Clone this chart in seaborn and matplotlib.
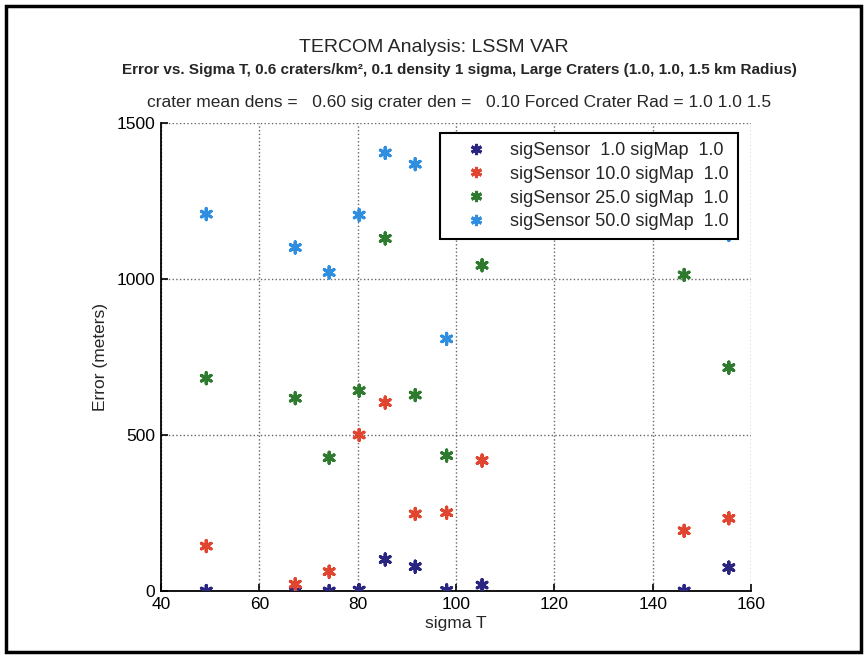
import pandas as pd
import matplotlib.pyplot as plt
import matplotlib.patches as mpatches
import seaborn as sns

# ==========================================
# DATA
# ==========================================
SIGMA_T = [49.2, 67.3, 74.2, 80.3, 85.6, 91.7, 98.1, 105.3, 146.4, 155.5]

ERR_SENSOR_1 = [0, 0, 0, 3, 101, 78, 2, 19, 0, 75]
ERR_SENSOR_10 = [144, 22, 62, 500, 604, 247, 251, 418, 193, 233]
ERR_SENSOR_25 = [682, 618, 427, 642, 1130, 628, 434, 1044, 1013, 716]
# 50.0 sensor: the points at 105.3 and 146.4 sit behind the legend
SIGMA_T_50 = [49.2, 67.3, 74.2, 80.3, 85.6, 91.7, 98.1, 155.5]
ERR_SENSOR_50 = [1208, 1101, 1021, 1205, 1404, 1368, 808, 1141]

LABELS = ["sigSensor  1.0 sigMap  1.0",
          "sigSensor 10.0 sigMap  1.0",
          "sigSensor 25.0 sigMap  1.0",
          "sigSensor 50.0 sigMap  1.0"]
COLORS = ["#2a2580", "#e0452f", "#2e7a2e", "#2f8ee0"]

X_TICKS = [40, 60, 80, 100, 120, 140, 160]
Y_TICKS = [0, 500, 1000, 1500]

# ==========================================
# BUILD TABLE
# ==========================================
rows = []
for xs, ys, lab in [(SIGMA_T, ERR_SENSOR_1, LABELS[0]),
                    (SIGMA_T, ERR_SENSOR_10, LABELS[1]),
                    (SIGMA_T, ERR_SENSOR_25, LABELS[2]),
                    (SIGMA_T_50, ERR_SENSOR_50, LABELS[3])]:
    for x, y in zip(xs, ys):
        rows.append({"sigma T": x, "Error": y, "series": lab})
df = pd.DataFrame(rows)

# ==========================================
# PLOT
# ==========================================
sns.set_theme(style="white")
plt.rcParams['font.family'] = ['Liberation Sans', 'DejaVu Sans']

fig = plt.figure(figsize=(8.67, 6.57), dpi=100)
ax = fig.add_axes([161 / 867, 1 - 591 / 657, 590 / 867, 468 / 657])

sns.scatterplot(data=df, x="sigma T", y="Error", hue="series",
                palette=COLORS, hue_order=LABELS, marker=(6, 2, 0),
                s=65, linewidth=2.2, ax=ax, legend=True, zorder=3)

ax.set_xlim(40, 160)
ax.set_ylim(0, 1500)
ax.set_xticks(X_TICKS)
ax.set_yticks(Y_TICKS)
ax.tick_params(direction="in", length=5, width=1.2, labelsize=12.5,
               colors="black", bottom=True, left=True, pad=4)
ax.grid(True, linestyle=":", color="#666666", linewidth=1.0)
for side in ["top", "right"]:
    ax.spines[side].set_visible(False)
for side in ["left", "bottom"]:
    ax.spines[side].set_color("black")
    ax.spines[side].set_linewidth(1.3)

ax.set_xlabel("sigma T", fontsize=12.5, labelpad=3)
ax.set_ylabel("Error (meters)", fontsize=12.5, labelpad=6)

leg = ax.legend(loc="upper right", bbox_to_anchor=(0.978, 0.979),
                borderaxespad=0, fontsize=13, frameon=True, fancybox=False,
                handlelength=3.0, handletextpad=0.4, borderpad=0.5,
                labelspacing=0.38, markerscale=1.0)
leg.get_frame().set_edgecolor("black")
leg.get_frame().set_linewidth(1.5)
leg.get_frame().set_alpha(1)

fig.text(0.5, 1 - 47 / 657, "TERCOM Analysis: LSSM VAR",
         ha="center", va="center", fontsize=14)
fig.text(459 / 867, 1 - 70 / 657,
         "Error vs. Sigma T, 0.6 craters/km², 0.1 density 1 sigma, Large Craters (1.0, 1.0, 1.5 km Radius)",
         ha="center", va="center", fontsize=11, fontweight="bold")
fig.text(459 / 867, 1 - 102 / 657,
         "crater mean dens =   0.60 sig crater den =   0.10 Forced Crater Rad = 1.0 1.0 1.5",
         ha="center", va="center", fontsize=12.5)

# outer border around the whole figure
fig.patches.append(mpatches.Rectangle((6 / 867, 5 / 657), 855 / 867, 646 / 657,
                                      transform=fig.transFigure, fill=False,
                                      edgecolor="black", linewidth=2.5))

fig.savefig("out.png", dpi=100)
